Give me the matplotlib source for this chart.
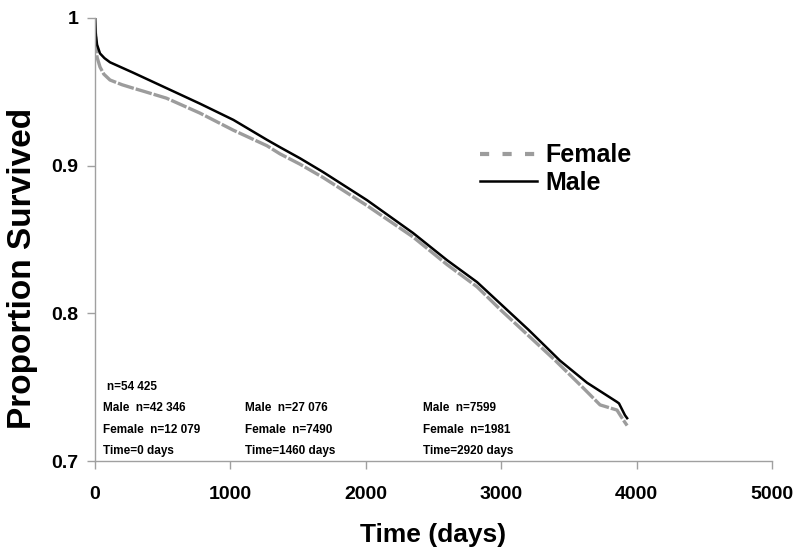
import matplotlib
matplotlib.use("Agg")
import matplotlib.pyplot as plt
from matplotlib.lines import Line2D

plt.rcParams["font.family"] = ["Liberation Sans", "DejaVu Sans"]
plt.rcParams["font.weight"] = "bold"

# survival curves
male_days = [0, 5, 15, 37, 70, 111, 281, 528, 775, 1022, 1270, 1366, 1514, 1684,
             2008, 2349, 2600, 2821, 3000, 3200, 3434, 3634, 3855, 3870, 3914, 3930]
male_surv = [1.0, 0.990, 0.982, 0.976, 0.9728, 0.970, 0.963, 0.9525, 0.942, 0.931,
             0.9175, 0.9125, 0.905, 0.8957, 0.8767, 0.8544, 0.836, 0.8212, 0.806,
             0.789, 0.768, 0.753, 0.740, 0.739, 0.731, 0.729]

female_days = [0, 5, 15, 37, 65, 111, 200, 281, 355, 528, 775, 1022, 1270, 1366, 1514,
               1684, 2008, 2349, 2600, 2821, 3000, 3200, 3400, 3600, 3730, 3855, 3900,
               3930]
female_surv = [1.0, 0.985, 0.9735, 0.9668, 0.962, 0.958, 0.9548, 0.9525, 0.9505,
               0.9457, 0.9356, 0.924, 0.9135, 0.908, 0.901, 0.892, 0.873, 0.8517,
               0.833, 0.818, 0.802, 0.785, 0.768, 0.750, 0.738, 0.7345, 0.728, 0.724]

x_ticks = [0, 1000, 2000, 3000, 4000, 5000]
y_ticks = [0.7, 0.8, 0.9, 1.0]
y_tick_labels = ["0.7", "0.8", "0.9", "1"]

# numbers at risk, one column per time point
risk_days = [59, 1108, 2422]
risk_rows = [
    ["Male  n=42 346", "Female  n=12 079", "Time=0 days"],
    ["Male  n=27 076", "Female  n=7490", "Time=1460 days"],
    ["Male  n=7599", "Female  n=1981", "Time=2920 days"],
]
risk_total = "n=54 425"

W, H = 795, 552
fig = plt.figure(figsize=(W / 100, H / 100), dpi=100)
ax = fig.add_axes([95 / W, 1 - 461 / H, (772 - 95) / W, (461 - 18) / H])

ax.plot(female_days, female_surv, color="#9c9c9c", lw=2.4, ls=(0, (5, 0.6)))
ax.plot(male_days, male_surv, color="black", lw=1.8)

ax.set_xlim(0, 5000)
ax.set_ylim(0.7, 1.0)
ax.set_xticks(x_ticks)
ax.set_xticklabels([str(t) for t in x_ticks])
ax.set_yticks(y_ticks)
ax.set_yticklabels(y_tick_labels)

for s in ["top", "right"]:
    ax.spines[s].set_visible(False)
for s in ["left", "bottom"]:
    ax.spines[s].set_color("#a0a0a0")
    ax.spines[s].set_linewidth(1.0)
ax.tick_params(axis="both", direction="out", length=6, color="#a0a0a0",
               labelsize=14, width=1.0)
ax.tick_params(axis="x", pad=12)
ax.tick_params(axis="y", pad=6)
for lab in ax.get_xticklabels() + ax.get_yticklabels():
    lab.set_fontweight("bold")

# at-risk table
ax.text(risk_days[0] + 30, 0.750, risk_total, fontsize=8.5, fontweight="bold",
        va="center", ha="left")
row_y = [0.7359, 0.721, 0.7068]
for x, col in zip(risk_days, risk_rows):
    for y, txt in zip(row_y, col):
        ax.text(x, y, txt, fontsize=8.5, fontweight="bold", va="center", ha="left")

handles = [
    Line2D([], [], color="#9c9c9c", lw=3, ls=(0, (2.2, 3.2))),
    Line2D([], [], color="black", lw=1.8),
]
leg = ax.legend(handles, ["Female", "Male"], loc="upper left",
                bbox_to_anchor=((467 - 95) / (772 - 95), (461 - 131) / (461 - 18)),
                frameon=False, fontsize=18, handlelength=2.3, handletextpad=0.32,
                labelspacing=0.12, borderpad=0)
for t in leg.get_texts():
    t.set_fontweight("bold")

fig.text(433 / W, 1 - 535 / H, "Time (days)", fontsize=19, fontweight="bold",
         ha="center", va="center")
fig.text(23 / W, 1 - 268 / H, "Proportion Survived", fontsize=24, fontweight="bold",
         ha="center", va="center", rotation=90)

fig.savefig("out.png", dpi=100)
